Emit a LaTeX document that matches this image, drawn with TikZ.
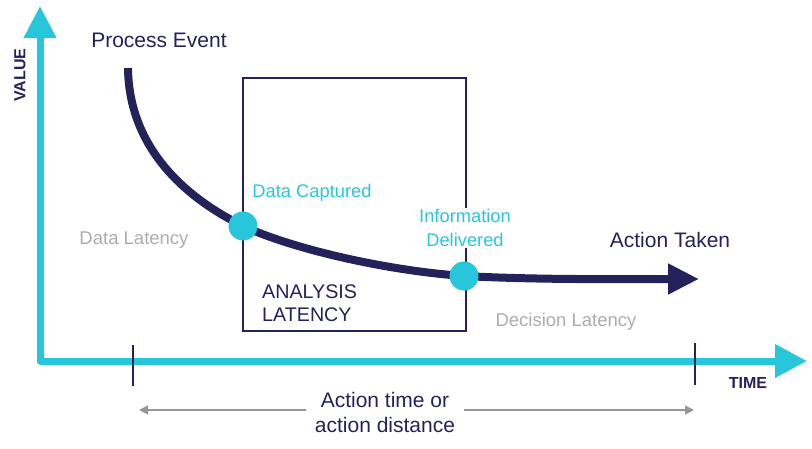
\documentclass[tikz,border=0pt]{standalone}
\usepackage{fontspec}
\setmainfont{Liberation Sans}
\usetikzlibrary{arrows.meta}
\definecolor{navy}{RGB}{36,34,90}
\definecolor{cyanax}{RGB}{40,198,218}
\definecolor{lgray}{RGB}{172,172,172}
\definecolor{agray}{RGB}{150,150,150}
\tikzset{
  axis/.style={cyanax, line width=7pt, line join=round},
  tickmark/.style={navy, line width=1.6pt},
  bigtxt/.style={navy, font=\fontsize{21}{24}\selectfont, inner sep=1pt},
  cyantxt/.style={cyanax, font=\fontsize{18.3}{24}\selectfont, inner sep=1pt},
  graytxt/.style={lgray, font=\fontsize{18.5}{20}\selectfont, inner sep=1pt},
  axislabel/.style={navy, font=\bfseries\fontsize{16}{18}\selectfont, inner sep=1pt},
  dot/.style={circle, fill=cyanax, minimum size=29pt, inner sep=0pt},
  boxline/.style={navy, line width=1.6pt},
  curve/.style={navy, line width=8pt, -{Triangle[length=31pt,width=29pt]}},
  span/.style={agray, line width=1.6pt}
}
\begin{document}
\begin{tikzpicture}[x=1pt,y=-1pt]
\useasboundingbox (0,0) rectangle (812,448);
% axes
\coordinate (ytip) at (40,6);
\coordinate (orig) at (40,361);
\coordinate (xtip) at (807,361);
\draw[axis, {Triangle[length=32pt,width=31pt]}-{Triangle[length=32pt,width=32pt]}] (ytip) -- (orig) -- (xtip);
\node[axislabel, rotate=90] (value) at (20,75) {VALUE};
\node[axislabel] (time) at (748,383) {TIME};
% ticks
\coordinate (t1a) at (133,345); \coordinate (t1b) at (133,386);
\coordinate (t2a) at (695,343); \coordinate (t2b) at (695,385);
\draw[tickmark] (t1a) -- (t1b);
\draw[tickmark] (t2a) -- (t2b);
% box
\coordinate (b1) at (243,78); \coordinate (b2) at (466,331);
\draw[boxline] (b1) rectangle (b2);
% curve
\coordinate (start) at (128,68);
\coordinate (pdc) at (243,226);
\coordinate (pid) at (464,276);
\coordinate (end) at (699,279);
\draw[curve] (start) .. controls (129,150) and (188,199) .. (pdc)
  .. controls (295,250) and (390,271) .. (pid)
  .. controls (540,280) and (620,279) .. (end);
\node[dot] (dc) at (pdc) {};
\node[dot] (id) at (pid) {};
% labels
\node[bigtxt] (pe) at (159,40) {Process Event};
\node[bigtxt] (at) at (670,240) {Action Taken};
\node[cyantxt] (dcl) at (312,193) {Data Captured};
\node[cyantxt, fill=white, align=center] (idl) at (465,228) {Information\\Delivered};
\node[graytxt] (dl) at (134,240) {Data Latency};
\node[graytxt] (decl) at (566,322) {Decision Latency};
\node[bigtxt, align=left, anchor=west, font=\fontsize{19.7}{23}\selectfont] (al) at (261,303) {ANALYSIS\\LATENCY};
\node[bigtxt, align=center, font=\fontsize{21}{25}\selectfont] (atd) at (385,412) {Action time or\\action distance};
% span arrow
\coordinate (sa) at (139,410);
\coordinate (sb) at (694,410);
\draw[span, -{Triangle[length=9pt,width=9pt]}] ([xshift=-8pt]atd.west |- sa) -- (sa);
\draw[span, -{Triangle[length=9pt,width=9pt]}] ([xshift=8pt]atd.east |- sb) -- (sb);
\end{tikzpicture}
\end{document}
